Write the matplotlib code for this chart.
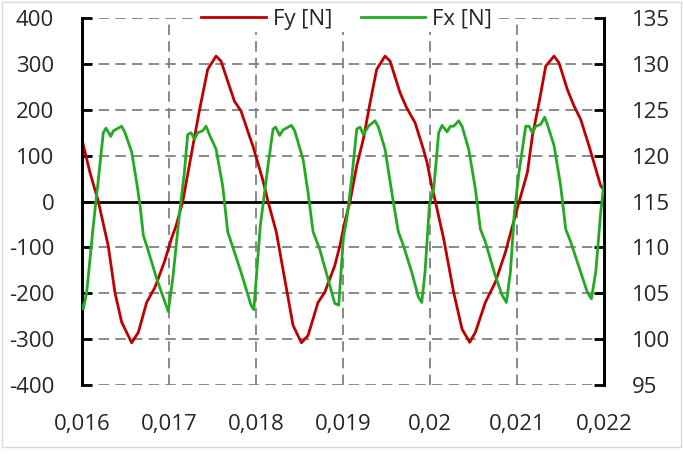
import matplotlib
matplotlib.use("Agg")
import matplotlib.pyplot as plt
from matplotlib.ticker import FuncFormatter, MultipleLocator
from matplotlib.patches import Rectangle

plt.rcParams.update({
    "font.family": ["Open Sans", "DejaVu Sans"],
    "lines.scale_dashes": False,
})

# Fy [N] (left axis)
fy_t = [0.016, 0.016092, 0.016188, 0.016303, 0.016379, 0.016456, 0.016571,
        0.016648, 0.016743, 0.016839, 0.01695, 0.01703, 0.017081, 0.017158,
        0.017253, 0.01735, 0.017445, 0.017541, 0.017598, 0.017656, 0.017751,
        0.017828, 0.017924, 0.017966, 0.018081, 0.018138, 0.018234, 0.01833,
        0.018426, 0.018522, 0.018598, 0.018713, 0.01879, 0.018905, 0.018966,
        0.01902, 0.019081, 0.019158, 0.019234, 0.019311, 0.019387, 0.019483,
        0.019541, 0.019656, 0.019732, 0.019828, 0.019924, 0.019966, 0.02002,
        0.020062, 0.020158, 0.020272, 0.020368, 0.020456, 0.020522, 0.020636,
        0.020751, 0.020866, 0.021, 0.021043, 0.021119, 0.021177, 0.021253,
        0.02133, 0.021426, 0.021483, 0.021579, 0.021656, 0.021732, 0.021828,
        0.021962, 0.022]
fy_v = [135, 63, 0, -98, -199, -263, -308,
        -285, -220, -187, -130, -80, -53, 0,
        99, 199, 288, 317, 306, 273, 219,
        197, 143, 120, 45, 0, -67, -169,
        -270, -308, -292, -220, -198, -140, -95,
        -45, 0, 78, 136, 215, 288, 317,
        306, 237, 204, 172, 114, 85, 34,
        0, -82, -198, -278, -307, -285, -220,
        -176, -111, -17, 12, 63, 143, 215,
        295, 317, 302, 244, 208, 179, 121,
        34, 25]

# Fx [N] (right axis)
fx_t = [0.016, 0.016015, 0.016054, 0.01613, 0.016188, 0.016245, 0.016276,
        0.01633, 0.01636, 0.016456, 0.016494, 0.016571, 0.016628, 0.016667,
        0.016705, 0.016743, 0.016858, 0.016992,
        0.017043, 0.017119, 0.017177, 0.017215, 0.017253, 0.017292, 0.01733,
        0.017387, 0.017426, 0.017464, 0.017541, 0.017617, 0.017675, 0.017713,
        0.017828, 0.017943, 0.017975,
        0.01805, 0.018138, 0.018196, 0.018226, 0.018272, 0.018311, 0.018407,
        0.018445, 0.018541, 0.018598, 0.018656, 0.018732, 0.018847, 0.018905,
        0.018951, 0.019004, 0.019043,
        0.0191, 0.019158, 0.019196, 0.019234, 0.019292, 0.019368, 0.019407,
        0.019483, 0.019579, 0.019636, 0.019694, 0.01979, 0.019866, 0.019905,
        0.019943, 0.019993,
        0.020043, 0.0201, 0.020138, 0.020196, 0.020234, 0.020272, 0.02033,
        0.020368, 0.020445, 0.020521, 0.020579, 0.020636, 0.020751, 0.020828,
        0.020878, 0.020924, 0.02097,
        0.021023, 0.0211, 0.021138, 0.021177, 0.021215, 0.021272, 0.021318,
        0.021349, 0.021426, 0.021502, 0.02156, 0.021617, 0.021732, 0.021809,
        0.021855, 0.021905, 0.021962, 0.022]
fx_v = [103.7, 103.3, 105.1, 112.4, 117.4, 122.5, 123.0,
        122.1, 122.7, 123.2, 122.5, 120.4, 117.1, 114.6,
        111.3, 110.2, 106.6, 103.0,
        106.6, 113.5, 118.2, 122.3, 122.5, 121.8, 122.5,
        122.7, 123.2, 122.3, 120.7, 116.7, 111.7, 110.6,
        107.3, 103.7, 103.2,
        112.4, 118.9, 122.9, 123.1, 122.2, 122.8, 123.3,
        122.7, 119.6, 116.0, 111.7, 109.8, 105.9, 103.9,
        103.7, 111.0, 113.1,
        117.5, 122.9, 123.1, 122.3, 123.2, 123.8, 123.1,
        120.7, 114.9, 111.7, 110.2, 107.3, 104.6, 104.0,
        107.3, 114.6,
        116.4, 122.5, 123.3, 122.6, 123.2, 123.2, 123.8,
        123.2, 120.7, 116.4, 112.0, 110.6, 106.9, 104.8,
        104.0, 107.3, 113.8,
        118.2, 123.2, 123.2, 122.5, 123.2, 123.4, 124.2,
        123.4, 121.1, 116.7, 112.0, 110.6, 107.3, 105.1,
        104.4, 107.3, 113.8, 117.0]

x_ticks = [0.016, 0.017, 0.018, 0.019, 0.020, 0.021, 0.022]

RED = "#C00000"
GREEN = "#22AA22"
GRID = "#808080"
TXT = "#262626"
FS = 16

fig = plt.figure(figsize=(6.83, 4.54), dpi=100)
ax = fig.add_axes([82 / 683, 1 - 385 / 454, 522 / 683, 367 / 454])
ax2 = ax.twinx()

ax.set_xlim(0.016, 0.022)
ax.set_ylim(-400, 400)
ax2.set_ylim(95, 135)

# dashed grid
for y in range(-400, 401, 100):
    if y != 0:
        ax.axhline(y, color=GRID, lw=1.3, dashes=(7.5, 4.5), zorder=1)
for x in x_ticks[1:-1]:
    ax.axvline(x, color=GRID, lw=1.3, dashes=(7.5, 4.5), zorder=1)
ax.axhline(0, color="black", lw=2.0, zorder=2)

l1, = ax.plot(fy_t, fy_v, color=RED, lw=2.0, zorder=3, label="Fy [N]",
              solid_joinstyle="round")
l2, = ax2.plot(fx_t, fx_v, color=GREEN, lw=2.0, zorder=3, label="Fx [N]",
               solid_joinstyle="round")

for a in (ax, ax2):
    a.spines["top"].set_visible(False)
    a.spines["bottom"].set_visible(False)
    a.spines["left"].set_linewidth(2.0)
    a.spines["right"].set_linewidth(2.0)

ax.set_xticks(x_ticks)
ax.xaxis.set_major_formatter(FuncFormatter(
    lambda v, p: f"{v:.3f}".rstrip("0").replace(".", ",")))
ax.yaxis.set_major_locator(MultipleLocator(100))
ax.yaxis.set_major_formatter(FuncFormatter(lambda v, p: f"{v:.0f}".replace("\u2212", "-")))
ax2.yaxis.set_major_locator(MultipleLocator(5))
ax2.yaxis.set_major_formatter(FuncFormatter(lambda v, p: f"{v:.0f}"))

ax.tick_params(axis="x", length=0, pad=21, labelsize=FS, labelcolor=TXT)
ax.tick_params(axis="y", direction="in", length=7, width=2.0, pad=20,
               labelsize=FS, labelcolor=TXT)
ax2.tick_params(axis="y", direction="in", length=7, width=2.0, pad=20,
                labelsize=FS, labelcolor=TXT)

leg = ax2.legend(handles=[l1, l2], loc="center", bbox_to_anchor=(0.507, 0.997),
                 ncol=2, fontsize=FS, frameon=True, fancybox=False,
                 handlelength=2.9, handletextpad=0.3, columnspacing=1.3,
                 borderpad=0.1, borderaxespad=0)
leg.get_frame().set_facecolor("white")
leg.get_frame().set_edgecolor("none")
leg.get_frame().set_alpha(1)
for t in leg.get_texts():
    t.set_color(TXT)

fig.patches.append(Rectangle((1.5 / 683, 7 / 454), 679 / 683, 445 / 454,
                             transform=fig.transFigure, fill=False,
                             edgecolor="#D9D9D9", lw=1))

fig.savefig("out.png", dpi=100)
